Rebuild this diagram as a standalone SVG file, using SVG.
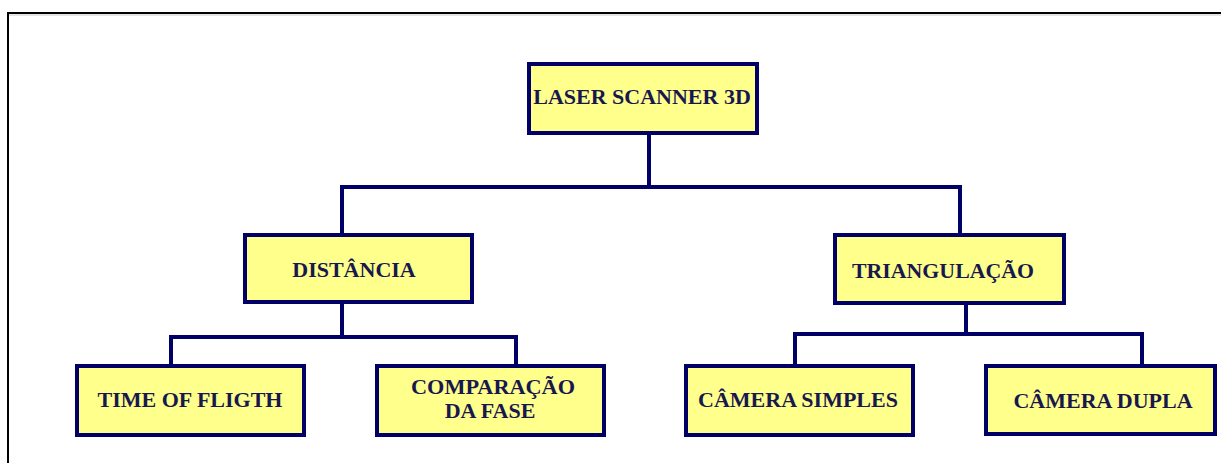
<svg xmlns="http://www.w3.org/2000/svg" width="1221" height="463" viewBox="0 0 1221 463">
  <style>
    .box { fill: #FFFF8C; stroke: #000066; stroke-width: 4; }
    .lbl { font-family: "Liberation Serif", "Times New Roman", serif; font-weight: bold; font-size: 22px; fill: #18184E; }
    .conn { fill: none; stroke: #000066; stroke-width: 4; stroke-linejoin: miter; }
    .frame { fill: none; stroke: #000000; stroke-width: 2; }
  </style>
  <rect x="0" y="0" width="1221" height="463" fill="#FFFFFF"/>
  <path class="frame" d="M8 463 V13 H1221"/>
  <path d="M9 15 H1221" stroke="#C8C8C8" stroke-width="1" fill="none"/>
  <g id="connectors">
    <polyline class="conn" points="649,135 649,187"/>
    <polyline class="conn" points="342,233 342,187 960,187 960,233"/>
    <polyline class="conn" points="342,304 342,337"/>
    <polyline class="conn" points="171,364 171,337 516,337 516,364"/>
    <polyline class="conn" points="966,305 966,334"/>
    <polyline class="conn" points="795,364 795,334 1142,334 1142,364"/>
  </g>
  <g id="laser">
    <rect class="box" x="529" y="64" width="228" height="69"/>
    <text class="lbl" x="642" y="104" text-anchor="middle">LASER SCANNER 3D</text>
  </g>
  <g id="distancia">
    <rect class="box" x="245" y="235" width="227" height="67"/>
    <text class="lbl" x="354" y="277" text-anchor="middle">DISTÂNCIA</text>
  </g>
  <g id="triangulacao">
    <rect class="box" x="835" y="235" width="229" height="68"/>
    <text class="lbl" x="943" y="278" text-anchor="middle" textLength="182" lengthAdjust="spacingAndGlyphs">TRIANGULAÇÃO</text>
  </g>
  <g id="time">
    <rect class="box" x="77" y="366" width="227" height="69"/>
    <text class="lbl" x="190" y="407" text-anchor="middle">TIME OF FLIGTH</text>
  </g>
  <g id="comparacao">
    <rect class="box" x="377" y="366" width="227" height="69"/>
    <text class="lbl" x="493" y="394" text-anchor="middle" textLength="164" lengthAdjust="spacingAndGlyphs">COMPARAÇÃO</text>
    <text class="lbl" x="490" y="418" text-anchor="middle">DA FASE</text>
  </g>
  <g id="camera-simples">
    <rect class="box" x="686" y="366" width="227" height="69"/>
    <text class="lbl" x="798" y="407" text-anchor="middle">CÂMERA SIMPLES</text>
  </g>
  <g id="camera-dupla">
    <rect class="box" x="986" y="366" width="229" height="68"/>
    <text class="lbl" x="1103" y="408" text-anchor="middle">CÂMERA DUPLA</text>
  </g>
</svg>
